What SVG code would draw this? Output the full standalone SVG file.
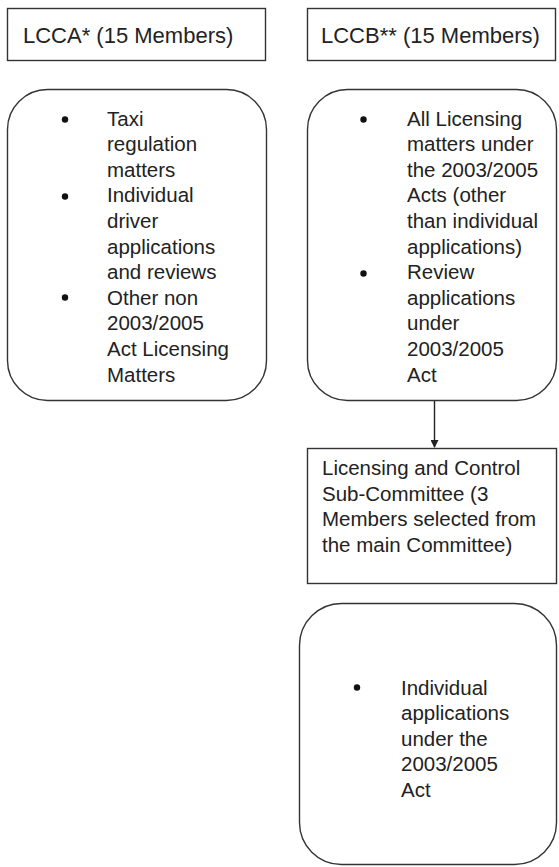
<svg xmlns="http://www.w3.org/2000/svg" width="559" height="867" viewBox="0 0 559 867">
<defs>
<style>
.box{fill:#fff;stroke:#333;stroke-width:1.4}
.hd{font-family:"Liberation Sans",Arial,sans-serif;font-size:22px;fill:#222}
.tx{font-family:"Liberation Sans",Arial,sans-serif;font-size:20.5px;fill:#222}
.bul{fill:#111}
.con{stroke:#222;stroke-width:1.4;fill:none}
</style>
<marker id="arr" markerWidth="8" markerHeight="8" refX="7" refY="4" orient="auto" markerUnits="userSpaceOnUse">
<path d="M0,0 L8,4 L0,8 Z" fill="#222"/>
</marker>
</defs>
<rect width="559" height="867" fill="#fff"/>
<g id="lcca">
<rect class="box" x="7.5" y="8.5" width="258" height="52"/>
<text class="hd" x="23" y="43">LCCA* (15 Members)</text>
</g>
<g id="lccb">
<rect class="box" x="307.5" y="8.5" width="248" height="52"/>
<text class="hd" x="321" y="43">LCCB** (15 Members)</text>
</g>
<g id="lcca-duties">
<rect class="box" x="7.5" y="89.5" width="259" height="311" rx="40" ry="40"/>
<circle class="bul" cx="65" cy="119.5" r="3.2"/>
<circle class="bul" cx="65" cy="196.5" r="3.2"/>
<circle class="bul" cx="65" cy="297.5" r="3.2"/>
<text class="tx">
<tspan x="107" y="125.5">Taxi</tspan>
<tspan x="107" y="151.1">regulation</tspan>
<tspan x="107" y="176.7">matters</tspan>
<tspan x="107" y="202.3">Individual</tspan>
<tspan x="107" y="227.9">driver</tspan>
<tspan x="107" y="253.5">applications</tspan>
<tspan x="107" y="279.1">and reviews</tspan>
<tspan x="107" y="304.7">Other non</tspan>
<tspan x="107" y="330.3">2003/2005</tspan>
<tspan x="107" y="355.9">Act Licensing</tspan>
<tspan x="107" y="381.5">Matters</tspan>
</text>
</g>
<g id="lccb-duties">
<rect class="box" x="307.5" y="89.5" width="249" height="311" rx="40" ry="40"/>
<circle class="bul" cx="363.5" cy="119.5" r="3.2"/>
<circle class="bul" cx="363.5" cy="273.5" r="3.2"/>
<text class="tx">
<tspan x="407" y="125.5">All Licensing</tspan>
<tspan x="407" y="151.1">matters under</tspan>
<tspan x="407" y="176.7">the 2003/2005</tspan>
<tspan x="407" y="202.3">Acts (other</tspan>
<tspan x="407" y="227.9">than individual</tspan>
<tspan x="407" y="253.5">applications)</tspan>
<tspan x="407" y="279.1">Review</tspan>
<tspan x="407" y="304.7">applications</tspan>
<tspan x="407" y="330.3">under</tspan>
<tspan x="407" y="355.9">2003/2005</tspan>
<tspan x="407" y="381.5">Act</tspan>
</text>
</g>
<g id="subcommittee">
<rect class="box" x="307.5" y="448.5" width="249" height="135"/>
<text class="tx">
<tspan x="322" y="475">Licensing and Control</tspan>
<tspan x="322" y="500.6">Sub-Committee (3</tspan>
<tspan x="322" y="526.2">Members selected from</tspan>
<tspan x="322" y="551.8">the main Committee)</tspan>
</text>
</g>
<g id="sub-duties">
<rect class="box" x="299.5" y="603.5" width="257" height="261" rx="42" ry="42"/>
<circle class="bul" cx="357" cy="687.5" r="3.2"/>
<text class="tx">
<tspan x="401" y="694.5">Individual</tspan>
<tspan x="401" y="720.1">applications</tspan>
<tspan x="401" y="745.7">under the</tspan>
<tspan x="401" y="771.3">2003/2005</tspan>
<tspan x="401" y="796.9">Act</tspan>
</text>
</g>
<g id="connectors">
<line class="con" x1="434.5" y1="401" x2="434.5" y2="447" marker-end="url(#arr)"/>
</g>
</svg>
